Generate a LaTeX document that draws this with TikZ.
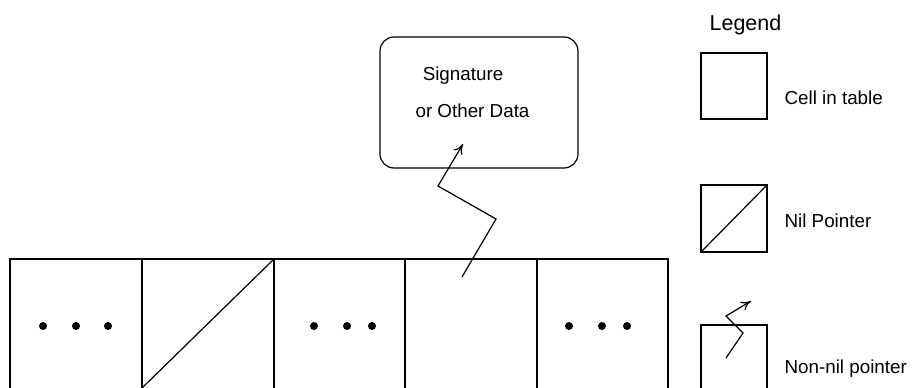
\documentclass[tikz,border=0pt]{standalone}
\usepackage{fontspec}
\setmainfont{Liberation Sans}
\usetikzlibrary{arrows.meta}
\begin{document}
\begin{tikzpicture}[x=1pt,y=-1pt,
  line width=1.2pt,
  lbl/.style={font=\fontsize{18.8}{22}\selectfont,inner sep=0pt,anchor=base west},
  ptr/.style={line width=1.2pt,-{To[length=10pt,width=10pt]}},
  dot/.style={fill,circle,inner sep=0pt,minimum size=8pt}]
\useasboundingbox (0,0) rectangle (916,388);
% table cells
\foreach \i/\xa/\xb in {1/10/142,2/142/274,3/274/405,4/405/537,5/537/668}{
  \draw (\xa,395) -- (\xa,259) -- (\xb,259) -- (\xb,395);
  \coordinate (c\i) at ({(\xa+\xb)/2},326);
}
% nil pointer diagonal
\coordinate (d1) at (142,388);
\coordinate (d2) at (274,259);
\draw (d1) -- (d2);
% dots
\foreach \x [count=\k] in {43,76,108}{\node[dot] (da\k) at (\x,326) {};}
\foreach \x [count=\k] in {314,347,372}{\node[dot] (db\k) at (\x,326) {};}
\foreach \x [count=\k] in {569,602,627}{\node[dot] (dc\k) at (\x,326) {};}
% signature box
\draw[rounded corners=14pt] (380,37) rectangle (578,168);
\node[lbl,anchor=base] (sig) at (463,80) {Signature};
\node[lbl,anchor=base] (oth) at (472.5,117) {or Other Data};
% pointer
\coordinate (p0) at (462,277);
\coordinate (p1) at (496,219);
\coordinate (p2) at (438,186);
\coordinate (p3) at (463,144);
\draw[ptr] (p0) -- (p1) -- (p2) -- (p3);
% legend
\node[lbl,font=\fontsize{21.5}{25}\selectfont] (leg) at (709,30) {Legend};
\draw (701,53) rectangle (767,119);
\node[lbl] (lcell) at (784,104) {Cell in table};
\draw (701,185) rectangle (767,252);
\coordinate (n1) at (701,252);
\coordinate (n2) at (767,185);
\draw (n1) -- (n2);
\node[lbl] (lnil) at (784,227) {Nil Pointer};
\draw (701,395) -- (701,325) -- (767,325) -- (767,395);
\coordinate (q0) at (726,358);
\coordinate (q1) at (743,333);
\coordinate (q2) at (726,316);
\coordinate (q3) at (751,301);
\draw[ptr] (q0) -- (q1) -- (q2) -- (q3);
\node[lbl] (lnn) at (784,373) {Non-nil pointer};
\end{tikzpicture}
\end{document}
